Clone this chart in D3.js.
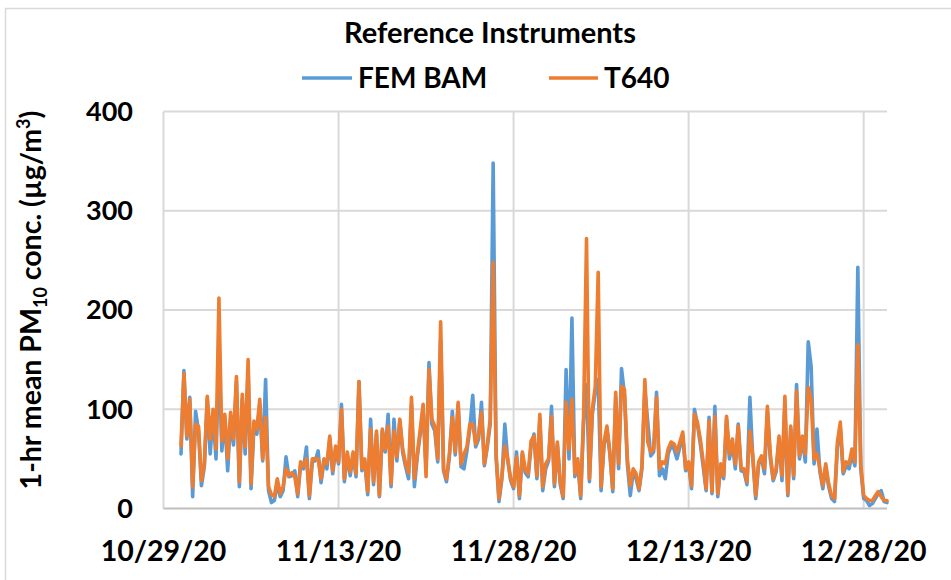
<!DOCTYPE html>
<html>
<head>
<meta charset="utf-8">
<script src="https://cdn.jsdelivr.net/npm/d3@7"></script>
<style>
  body { margin: 0; background: #fff; }
  text { font-family: Lato, "Noto Sans", sans-serif; font-weight: bold; fill: #000; }
</style>
</head>
<body>
<svg id="chart" width="951" height="580"></svg>
<script>
// 6-hourly readings, first one at 10/30/20 12:00
const startTime = Date.UTC(2020, 9, 30, 12);
const stepHours = 6;

// T640 (ug/m3)
const t640 = [
  63,136,73,110,22,85,83,28,45,113,
  70,100,60,212,68,95,50,97,70,133,
  27,115,62,150,25,88,80,110,50,92,
  22,14,12,30,15,22,40,33,36,32,
  15,47,43,50,13,50,50,50,30,50,
  45,73,38,63,47,100,30,57,37,57,
  35,128,40,50,17,80,27,78,13,80,
  60,83,25,78,52,90,60,45,36,112,
  30,55,80,105,32,140,90,83,50,188,
  40,30,55,92,57,107,45,55,62,85,
  85,65,75,97,45,65,90,248,55,10,
  33,63,50,30,22,52,13,57,40,35,
  68,73,33,95,22,45,50,93,25,67,
  27,12,107,60,110,35,50,13,93,272,
  30,100,123,238,22,67,83,57,20,117,
  45,123,120,50,23,40,35,20,43,130,
  67,57,60,112,40,47,45,60,67,65,
  57,67,77,40,47,23,95,87,70,47,
  20,88,17,93,15,45,33,93,55,70,
  45,83,40,40,27,78,53,13,47,53,
  40,103,55,30,40,73,33,113,15,83,
  33,118,53,73,55,122,110,50,55,40,
  23,45,25,13,10,67,87,37,47,45,
  60,47,165,45,13,10,8,8,13,17,
  12,8,8
];

// FEM BAM (ug/m3)
const femBam = [
  55,139,70,112,12,98,78,23,42,110,
  55,95,50,160,58,92,38,90,64,128,
  22,110,55,140,20,82,75,105,48,130,
  18,6,8,25,12,18,52,32,33,38,
  12,44,40,62,10,47,48,58,26,47,
  40,70,35,60,45,105,27,54,33,55,
  32,128,38,47,14,90,24,75,12,78,
  57,95,22,90,48,88,56,42,30,105,
  22,52,75,100,40,147,85,78,47,170,
  38,27,52,98,54,104,42,40,58,80,
  114,62,70,107,43,62,85,348,52,7,
  30,85,48,28,20,57,10,55,36,32,
  63,75,30,90,18,40,48,103,22,64,
  24,10,140,50,192,32,47,10,88,125,
  27,95,118,130,18,63,80,55,17,112,
  40,141,115,45,13,37,30,18,40,120,
  87,53,57,117,33,40,30,55,63,60,
  50,62,73,38,44,20,100,85,65,42,
  18,92,15,103,12,43,30,90,50,66,
  40,85,38,37,24,112,50,10,45,50,
  35,98,50,28,37,70,28,105,13,80,
  30,125,50,70,47,168,143,45,80,37,
  20,42,22,10,7,62,80,35,43,40,
  55,43,243,40,10,8,3,5,10,15,
  18,7,6
];

const yTicks = [0, 100, 200, 300, 400];
const xTickDates = ["2020-10-29", "2020-11-13", "2020-11-28", "2020-12-13", "2020-12-28"];

const seriesNames = ["FEM BAM", "T640"];
const colors = { "FEM BAM": "#5B9BD5", "T640": "#ED7D31" };

// plot area
const plotLeft = 163.5, plotRight = 887, plotTop = 111.5, plotBottom = 508.5;

const svg = d3.select("#chart");

// chart border
svg.append("rect")
    .attr("x", 5.5).attr("y", 8.5)
    .attr("width", 980).attr("height", 600)
    .attr("fill", "none")
    .attr("stroke", "#d9d9d9")
    .attr("stroke-width", 1.5);

const x = d3.scaleUtc()
    .domain([new Date(Date.UTC(2020, 9, 29)), new Date(Date.UTC(2020, 11, 30))])
    .range([plotLeft, plotRight]);

const y = d3.scaleLinear()
    .domain([0, 400])
    .range([plotBottom, plotTop]);

const tickDates = xTickDates.map(s => new Date(s + "T00:00:00Z"));
const fmt = d3.utcFormat("%-m/%-d/%y");

// gridlines
svg.append("g")
    .attr("stroke", "#d9d9d9")
    .attr("stroke-width", 2)
  .selectAll("line")
  .data(yTicks.filter(v => v > 0))
  .join("line")
    .attr("x1", plotLeft).attr("x2", plotRight)
    .attr("y1", d => y(d)).attr("y2", d => y(d));

svg.append("g")
    .attr("stroke", "#d9d9d9")
    .attr("stroke-width", 2)
  .selectAll("line")
  .data(tickDates)
  .join("line")
    .attr("x1", d => x(d)).attr("x2", d => x(d))
    .attr("y1", plotTop).attr("y2", plotBottom);

// bottom axis line
svg.append("line")
    .attr("x1", plotLeft).attr("x2", plotRight)
    .attr("y1", plotBottom).attr("y2", plotBottom)
    .attr("stroke", "#bfbfbf")
    .attr("stroke-width", 2);

// series
const timeOf = i => new Date(startTime + i * stepHours * 3600 * 1000);
const line = d3.line()
    .x((d, i) => x(timeOf(i)))
    .y(d => y(d));

const seriesData = { "FEM BAM": femBam, "T640": t640 };

svg.append("g")
  .selectAll("path")
  .data(seriesNames)
  .join("path")
    .attr("fill", "none")
    .attr("stroke", d => colors[d])
    .attr("stroke-width", 3.6)
    .attr("stroke-linejoin", "round")
    .attr("stroke-linecap", "round")
    .attr("d", d => line(seriesData[d]));

// y tick labels
svg.append("g")
  .selectAll("text")
  .data(yTicks)
  .join("text")
    .attr("x", 133)
    .attr("y", d => y(d))
    .attr("dy", "0.35em")
    .attr("text-anchor", "end")
    .attr("font-size", 27)
    .text(d => d);

// x tick labels
svg.append("g")
  .selectAll("text")
  .data(tickDates)
  .join("text")
    .attr("x", d => x(d))
    .attr("y", 561)
    .attr("text-anchor", "middle")
    .attr("font-size", 28.5)
    .text(d => fmt(d));

// y axis title
const yTitle = svg.append("text")
    .attr("transform", "translate(41,300) rotate(-90)")
    .attr("text-anchor", "middle")
    .attr("font-size", 28.5);
yTitle.append("tspan").text("1-hr mean PM");
yTitle.append("tspan").attr("font-size", 18).attr("dy", 6).text("10");
yTitle.append("tspan").attr("dy", -6).text(" conc. (µg/m");
yTitle.append("tspan").attr("font-size", 18).attr("dy", -11).text("3");
yTitle.append("tspan").attr("dy", 11).text(")");

// title
svg.append("text")
    .attr("x", 490)
    .attr("y", 43)
    .attr("text-anchor", "middle")
    .attr("font-size", 29)
    .text("Reference Instruments");

// legend
const legendItems = [
  { name: "FEM BAM", x1: 302, x2: 352 },
  { name: "T640", x1: 549, x2: 598 }
];
const lg = svg.append("g").selectAll("g").data(legendItems).join("g");
lg.append("line")
    .attr("x1", d => d.x1).attr("x2", d => d.x2)
    .attr("y1", 78).attr("y2", 78)
    .attr("stroke", d => colors[d.name])
    .attr("stroke-width", 3.6);
lg.append("text")
    .attr("x", d => d.x2 + 6)
    .attr("y", 78)
    .attr("dy", "0.35em")
    .attr("font-size", 28)
    .text(d => d.name);
</script>
</body>
</html>
